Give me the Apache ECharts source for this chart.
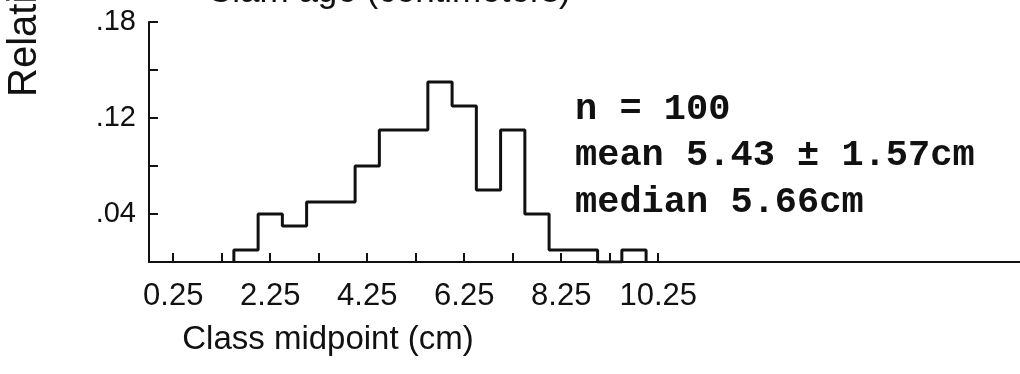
<!DOCTYPE html>
<html>
<head>
<meta charset="utf-8">
<style>
  html, body { margin: 0; padding: 0; background: #fff; }
  #chart { width: 1020px; height: 374px; }
</style>
<script src="https://cdn.jsdelivr.net/npm/echarts@6.0.0/dist/echarts.min.js"></script>
</head>
<body>
<div id="chart"></div>
<script>
// 数据：每个组的中点 (cm) 和相对频率
var classMidpoints = [1.75, 2.25, 2.75, 3.25, 3.75, 4.25, 4.75, 5.25, 5.75, 6.25, 6.75, 7.25, 7.75, 8.25, 8.75, 9.25, 9.75];
var relFrequency   = [0.01, 0.04, 0.03, 0.05, 0.05, 0.08, 0.11, 0.11, 0.15, 0.13, 0.06, 0.11, 0.04, 0.01, 0.01, 0.00, 0.01];
var binWidth = 0.5;

// 刻度
var xTickValues  = [0.25, 1.25, 2.25, 3.25, 4.25, 5.25, 6.25, 7.25, 8.25, 9.25, 10.25];
var xLabelValues = [0.25, 2.25, 4.25, 6.25, 8.25, 10.25];
var yTickValues  = [0.04, 0.08, 0.12, 0.16, 0.20];
var yLabelValues = [0.04, 0.12, 0.20];
var yTickLabels  = ['.04', '.12', '.18'];

var statLines = ['n = 100', 'mean 5.43 \u00b1 1.57cm', 'median 5.66cm'];

;(function() {
  var myChart = echarts.init(document.getElementById('chart'));
  var ink = '#111';

  // 阶梯线：每个组左边界一个点，最后回到 0
  var stepData = [[classMidpoints[0] - binWidth / 2, 0]];
  classMidpoints.forEach(function(m, i) {
    stepData.push([m - binWidth / 2, relFrequency[i]]);
  });
  stepData.push([classMidpoints[classMidpoints.length - 1] + binWidth / 2, 0]);

  var graphics = [
    // 标题（上半部分被裁掉）
    { type: 'text', x: 207, y: -8, style: { text: 'Clam age (centimeters)', font: '35px "Liberation Sans", Arial', fill: ink, align: 'left', verticalAlign: 'middle' } },
    // y 轴名称
    { type: 'text', x: 25, y: 97, rotation: Math.PI / 2, style: { text: 'Relative frequency', font: '40px "Liberation Sans", Arial', fill: ink, align: 'left', verticalAlign: 'middle' } },
    // x 轴名称
    { type: 'text', x: 328, y: 340, style: { text: 'Class midpoint (cm)', font: '33px "Liberation Sans", Arial', fill: ink, align: 'center', verticalAlign: 'middle' } }
  ];
  statLines.forEach(function(t, i) {
    graphics.push({ type: 'text', x: 575, y: 109.5 + i * 46.5, style: { text: t, font: 'bold 37px "Liberation Mono", monospace', fill: ink, align: 'left', verticalAlign: 'middle' } });
  });

  var option = {
    animation: false,
    backgroundColor: '#fff',
    grid: { left: 149, right: 0, top: 22, bottom: 112, outerBoundsMode: 'none' },
    xAxis: {
      type: 'value',
      min: -0.25,
      max: 17.71,
      splitLine: { show: false },
      axisLine: { show: true, onZero: false, lineStyle: { color: ink, width: 2 } },
      axisTick: { show: true, inside: true, length: 9, customValues: xTickValues, lineStyle: { color: ink, width: 2 } },
      axisLabel: {
        customValues: xLabelValues,
        margin: 19,
        color: ink,
        fontSize: 31,
        fontFamily: '"Liberation Sans", Arial',
        formatter: function(v) { return String(v); }
      }
    },
    yAxis: {
      type: 'value',
      min: 0,
      max: 0.2,
      splitLine: { show: false },
      axisLine: { show: true, onZero: false, lineStyle: { color: ink, width: 2 } },
      axisTick: { show: true, inside: true, length: 9, customValues: yTickValues, lineStyle: { color: ink, width: 2 } },
      axisLabel: {
        customValues: yLabelValues,
        margin: 13,
        color: ink,
        fontSize: 29,
        fontFamily: '"Liberation Sans", Arial',
        formatter: function(v) {
          for (var i = 0; i < yLabelValues.length; i++) {
            if (Math.abs(yLabelValues[i] - v) < 1e-9) return yTickLabels[i];
          }
          return '';
        }
      }
    },
    series: [
      {
        type: 'line',
        step: 'end',
        symbol: 'none',
        data: stepData,
        lineStyle: { color: ink, width: 3 }
      }
    ],
    graphic: graphics
  };

  myChart.setOption(option);
  window.addEventListener('resize', function() {
    myChart.resize();
  });
})();
</script>
</body>
</html>
